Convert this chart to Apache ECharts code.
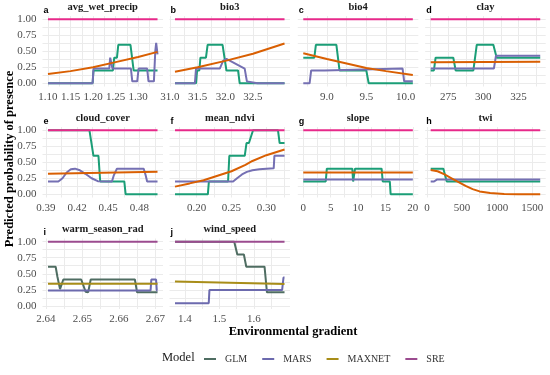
<!DOCTYPE html>
<html><head><meta charset="utf-8">
<script src="https://cdn.jsdelivr.net/npm/echarts@6/dist/echarts.min.js"></script>
<style>html,body{margin:0;padding:0;background:#fff}#c{width:550px;height:375px}</style>
</head><body><div id="c"></div>
<script>
// ---------- DATA ----------
const models = ['GLM', 'MARS', 'MAXNET', 'SRE'];
const panelNames = ['avg_wet_precip', 'bio3', 'bio4', 'clay', 'cloud_cover', 'mean_ndvi', 'slope', 'twi', 'warm_season_rad', 'wind_speed'];
const panelLetters = ['a', 'b', 'c', 'd', 'e', 'f', 'g', 'h', 'i', 'j'];
const xTickValues = [
  [1.10, 1.15, 1.20, 1.25, 1.30],
  [31.0, 31.5, 32.0, 32.5],
  [9.0, 9.5, 10.0],
  [275, 300, 325],
  [0.39, 0.42, 0.45, 0.48],
  [0.20, 0.25, 0.30],
  [0, 5, 10, 15, 20],
  [0, 500, 1000, 1500],
  [2.64, 2.65, 2.66, 2.67],
  [1.4, 1.5, 1.6]
];
const xTickDecimals = [2, 1, 1, 0, 2, 2, 0, 0, 2, 1];
const yTickValues = [0, 0.25, 0.5, 0.75, 1];

// a avg_wet_precip
const glmA = [[1.10,0],[1.199,0],[1.201,0.2],[1.244,0.2],[1.247,0.4],[1.253,0.4],[1.256,0.6],[1.283,0.6],[1.29,0.2],[1.343,0.2]];
const marsA = [[1.10,0],[1.199,0],[1.201,0.23],[1.236,0.23],[1.238,0.40],[1.241,0.43],[1.243,0.23],[1.284,0.23],[1.287,0.03],[1.298,0.03],[1.301,0.23],[1.320,0.23],[1.323,0.03],[1.335,0.03],[1.338,0.50],[1.340,0.63],[1.343,0.45]];
const maxnetA = [[1.10,0.145],[1.15,0.19],[1.20,0.25],[1.25,0.33],[1.30,0.41],[1.343,0.49]];
const sreA = [[1.10,1],[1.343,1]];
// b bio3
const glmB = [[31.09,0],[31.47,0],[31.49,0.2],[31.53,0.2],[31.55,0.4],[31.65,0.4],[31.68,0.6],[31.95,0.6],[32.02,0.2],[32.23,0.2],[32.26,0],[33.07,0]];
const marsB = [[31.09,0],[31.45,0],[31.47,0.23],[31.9,0.23],[31.96,0.35],[32.02,0.38],[32.35,0.23],[32.39,0.03],[32.58,0],[33.07,0]];
const maxnetB = [[31.09,0.18],[31.5,0.25],[32.0,0.35],[32.5,0.46],[33.07,0.62]];
const sreB = [[31.09,1],[33.07,1]];
// c bio4
const glmC = [[8.70,0.4],[8.84,0.4],[8.86,0.6],[9.12,0.6],[9.16,0.2],[9.50,0.2],[9.53,0],[10.09,0]];
const marsC = [[8.70,0],[8.78,0],[8.80,0.2],[8.97,0.2],[8.99,0.23],[9.96,0.23],[9.98,0.03],[10.09,0.03]];
const maxnetC = [[8.70,0.47],[9.0,0.38],[9.25,0.31],[9.5,0.24],[9.75,0.19],[10.09,0.13]];
const sreC = [[8.70,1],[10.09,1]];
// d clay
const glmD = [[262.5,0.2],[264.8,0.2],[266,0.4],[278.6,0.4],[280.3,0.2],[292.9,0.2],[295.3,0.6],[307.1,0.6],[309.5,0.4],[340.5,0.4]];
const marsD = [[262.5,0.23],[307.5,0.23],[309,0.43],[340.5,0.43]];
const maxnetD = [[262.5,0.33],[340.5,0.335]];
const sreD = [[262.5,1],[340.5,1]];
// e cloud_cover
const glmE = [[0.392,1],[0.4319,1],[0.4358,0.6],[0.4406,0.6],[0.4423,0.2],[0.4655,0.2],[0.4668,0],[0.4975,0]];
const marsE = [[0.392,0.2],[0.402,0.2],[0.406,0.25],[0.410,0.34],[0.414,0.39],[0.418,0.40],[0.422,0.38],[0.428,0.32],[0.434,0.25],[0.440,0.205],[0.4536,0.2],[0.4555,0.3],[0.4584,0.4],[0.4842,0.4],[0.4860,0.3],[0.4875,0.2],[0.4975,0.2]];
const maxnetE = [[0.392,0.32],[0.4975,0.35]];
const sreE = [[0.392,1],[0.4975,1]];
// f mean_ndvi
const glmF = [[0.169,0],[0.2161,0],[0.2176,0.2],[0.2451,0.2],[0.2469,0.6],[0.269,0.6],[0.2715,0.8],[0.275,0.8],[0.2809,1],[0.3166,1],[0.319,0.8],[0.326,0.8]];
const marsF = [[0.169,0.2],[0.2523,0.2],[0.258,0.25],[0.265,0.31],[0.272,0.35],[0.28,0.375],[0.29,0.39],[0.30,0.40],[0.3105,0.405],[0.3115,0.6],[0.326,0.6]];
const maxnetF = [[0.169,0.12],[0.19,0.17],[0.21,0.22],[0.23,0.29],[0.25,0.36],[0.27,0.46],[0.28,0.52],[0.30,0.61],[0.326,0.70]];
const sreF = [[0.169,1],[0.326,1]];
// g slope
const glmG = [[0,0.2],[4.1,0.2],[4.3,0.4],[8.95,0.4],[9.1,0.2],[9.3,0.2],[9.45,0.4],[14.3,0.4],[14.5,0.2],[15.8,0.2],[15.95,0],[20,0]];
const marsG = [[0,0.23],[20,0.23]];
const maxnetG = [[0,0.34],[20,0.34]];
const sreG = [[0,1],[20,1]];
// h twi
const glmH = [[52,0.4],[233,0.4],[281,0.2],[1614,0.2]];
const marsH = [[52,0.2],[100,0.2],[140,0.23],[1614,0.23]];
const maxnetH = [[52,0.38],[150,0.36],[250,0.31],[350,0.25],[450,0.19],[550,0.13],[650,0.08],[750,0.045],[900,0.02],[1100,0.005],[1300,0],[1614,0]];
const sreH = [[52,1],[1614,1]];
// i warm_season_rad
const glmI = [[2.6406,0.61],[2.6427,0.61],[2.6432,0.45],[2.6439,0.26],[2.6448,0.41],[2.6497,0.41],[2.6509,0.22],[2.6516,0.21],[2.6523,0.41],[2.6644,0.41],[2.665,0.21],[2.6706,0.21]];
const marsI = [[2.6406,0.24],[2.6687,0.24],[2.6689,0.41],[2.6702,0.41],[2.6704,0.24],[2.6706,0.24]];
const maxnetI = [[2.6406,0.345],[2.6706,0.345]];
const sreI = [[2.6406,1],[2.6706,1]];
// j wind_speed
const glmJ = [[1.371,1],[1.543,1],[1.552,0.8],[1.571,0.8],[1.578,0.61],[1.631,0.61],[1.638,0.21],[1.689,0.21]];
const marsJ = [[1.371,0.04],[1.469,0.04],[1.471,0.245],[1.682,0.245],[1.686,0.44],[1.689,0.44]];
const maxnetJ = [[1.371,0.378],[1.689,0.342]];
const sreJ = [[1.371,1],[1.689,1]];

const glmData = [glmA, glmB, glmC, glmD, glmE, glmF, glmG, glmH, glmI, glmJ];
const marsData = [marsA, marsB, marsC, marsD, marsE, marsF, marsG, marsH, marsI, marsJ];
const maxnetData = [maxnetA, maxnetB, maxnetC, maxnetD, maxnetE, maxnetF, maxnetG, maxnetH, maxnetI, maxnetJ];
const sreData = [sreA, sreB, sreC, sreD, sreE, sreF, sreG, sreH, sreI, sreJ];

// ---------- STYLE / LAYOUT ----------
const colorsMain = {GLM:'#1B9E77', MARS:'#7570B3', MAXNET:'#D95F02', SRE:'#E7298A'};
const colorsMuted = {GLM:'#4f6d62', MARS:'#6c6aae', MAXNET:'#a88d18', SRE:'#9b4b8f'};
const colLeft = [42.5, 169.5, 297.8, 425.2];
const rowTop = [16, 127, 238.5];
const gridW = 120.5, gridH = 70.5;
const serif = "'Liberation Serif', 'DejaVu Serif', serif";

const grids = [], xAxes = [], yAxes = [], series = [], graphics = [];
const allData = [glmData, marsData, maxnetData, sreData];

function withMinors(majors, lo, hi) {
  const step = majors[1] - majors[0];
  const out = majors.slice();
  out.push(majors[0] - step / 2);
  majors.forEach(v => out.push(v + step / 2));
  return out.filter(v => v >= lo - 1e-9 && v <= hi + 1e-9).sort((a, b) => a - b);
}

for (let p = 0; p < 10; p++) {
  const col = p % 4, row = Math.floor(p / 4);
  const left = colLeft[col], top = rowTop[row];
  grids.push({left: left, top: top, width: gridW, height: gridH, containLabel: false});
  let lo = Infinity, hi = -Infinity;
  allData.forEach(d => d[p].forEach(pt => { lo = Math.min(lo, pt[0]); hi = Math.max(hi, pt[0]); }));
  const xmin = lo - 0.05 * (hi - lo), xmax = hi + 0.05 * (hi - lo);
  const dec = xTickDecimals[p];
  xAxes.push({
    type: 'value', gridIndex: p, min: xmin, max: xmax,
    axisLine: {show: false},
    axisTick: {show: false, customValues: withMinors(xTickValues[p], xmin, xmax)},
    axisLabel: {customValues: xTickValues[p], formatter: v => Number(v).toFixed(dec),
      fontFamily: serif, fontSize: 11, color: '#4d4d4d', margin: 5, hideOverlap: false, showMinLabel: true, showMaxLabel: true},
    splitLine: {show: true, lineStyle: {color: '#ebebeb', width: 1}},
    minorSplitLine: {show: false}
  });
  yAxes.push({
    type: 'value', gridIndex: p, min: -0.05, max: 1.05,
    axisLine: {show: false},
    axisTick: {show: false, customValues: withMinors(yTickValues, -0.05, 1.05)},
    axisLabel: {show: col === 0, customValues: yTickValues, formatter: v => Number(v).toFixed(2),
      fontFamily: serif, fontSize: 11, color: '#4d4d4d', margin: 6},
    splitLine: {show: true, lineStyle: {color: '#ebebeb', width: 1}}
  });
  const cols = p >= 8 ? colorsMuted : colorsMain;
  models.forEach((m, k) => {
    series.push({
      type: 'line', name: m, xAxisIndex: p, yAxisIndex: p,
      data: allData[k][p], showSymbol: false, symbol: 'none', silent: true,
      lineStyle: {width: 2, color: cols[m]}, itemStyle: {color: cols[m]}
    });
  });
  graphics.push({type: 'text', x: left + gridW / 2, y: top - 9,
    style: {text: panelNames[p], font: 'bold 10.5px ' + serif, fill: '#1a1a1a', textAlign: 'center', textVerticalAlign: 'middle'}});
  graphics.push({type: 'text', x: left + 1, y: top - 5.5,
    style: {text: panelLetters[p], font: "bold 9px 'Liberation Sans', Arial, sans-serif", fill: '#000', textAlign: 'left', textVerticalAlign: 'middle'}});
}

graphics.push({type: 'text', x: 293, y: 332,
  style: {text: 'Environmental gradient', font: 'bold 12.5px ' + serif, fill: '#000', textAlign: 'center', textVerticalAlign: 'middle'}});
graphics.push({type: 'text', x: 9.5, y: 159, rotation: Math.PI / 2,
  style: {text: 'Predicted probability of presence', font: 'bold 12.5px ' + serif, fill: '#000', textAlign: 'center', textVerticalAlign: 'middle'}});
graphics.push({type: 'text', x: 162, y: 358,
  style: {text: 'Model', font: '12.5px ' + serif, fill: '#1a1a1a', textAlign: 'left', textVerticalAlign: 'middle'}});

const chart = echarts.init(document.getElementById('c'), null, {renderer: 'canvas'});
chart.setOption({
  backgroundColor: '#ffffff',
  animation: false,
  grid: grids, xAxis: xAxes, yAxis: yAxes, series: series,
  legend: {
    left: 199, top: 349, itemWidth: 12, itemHeight: 2, itemGap: 15, icon: 'rect',
    selectedMode: false,
    textStyle: {fontFamily: serif, fontSize: 10, color: '#333', padding: [0, 0, 0, 4]},
    data: models.map(m => ({name: m, itemStyle: {color: colorsMuted[m]}, lineStyle: {color: colorsMuted[m]}}))
  },
  graphic: graphics
});
</script></body></html>
